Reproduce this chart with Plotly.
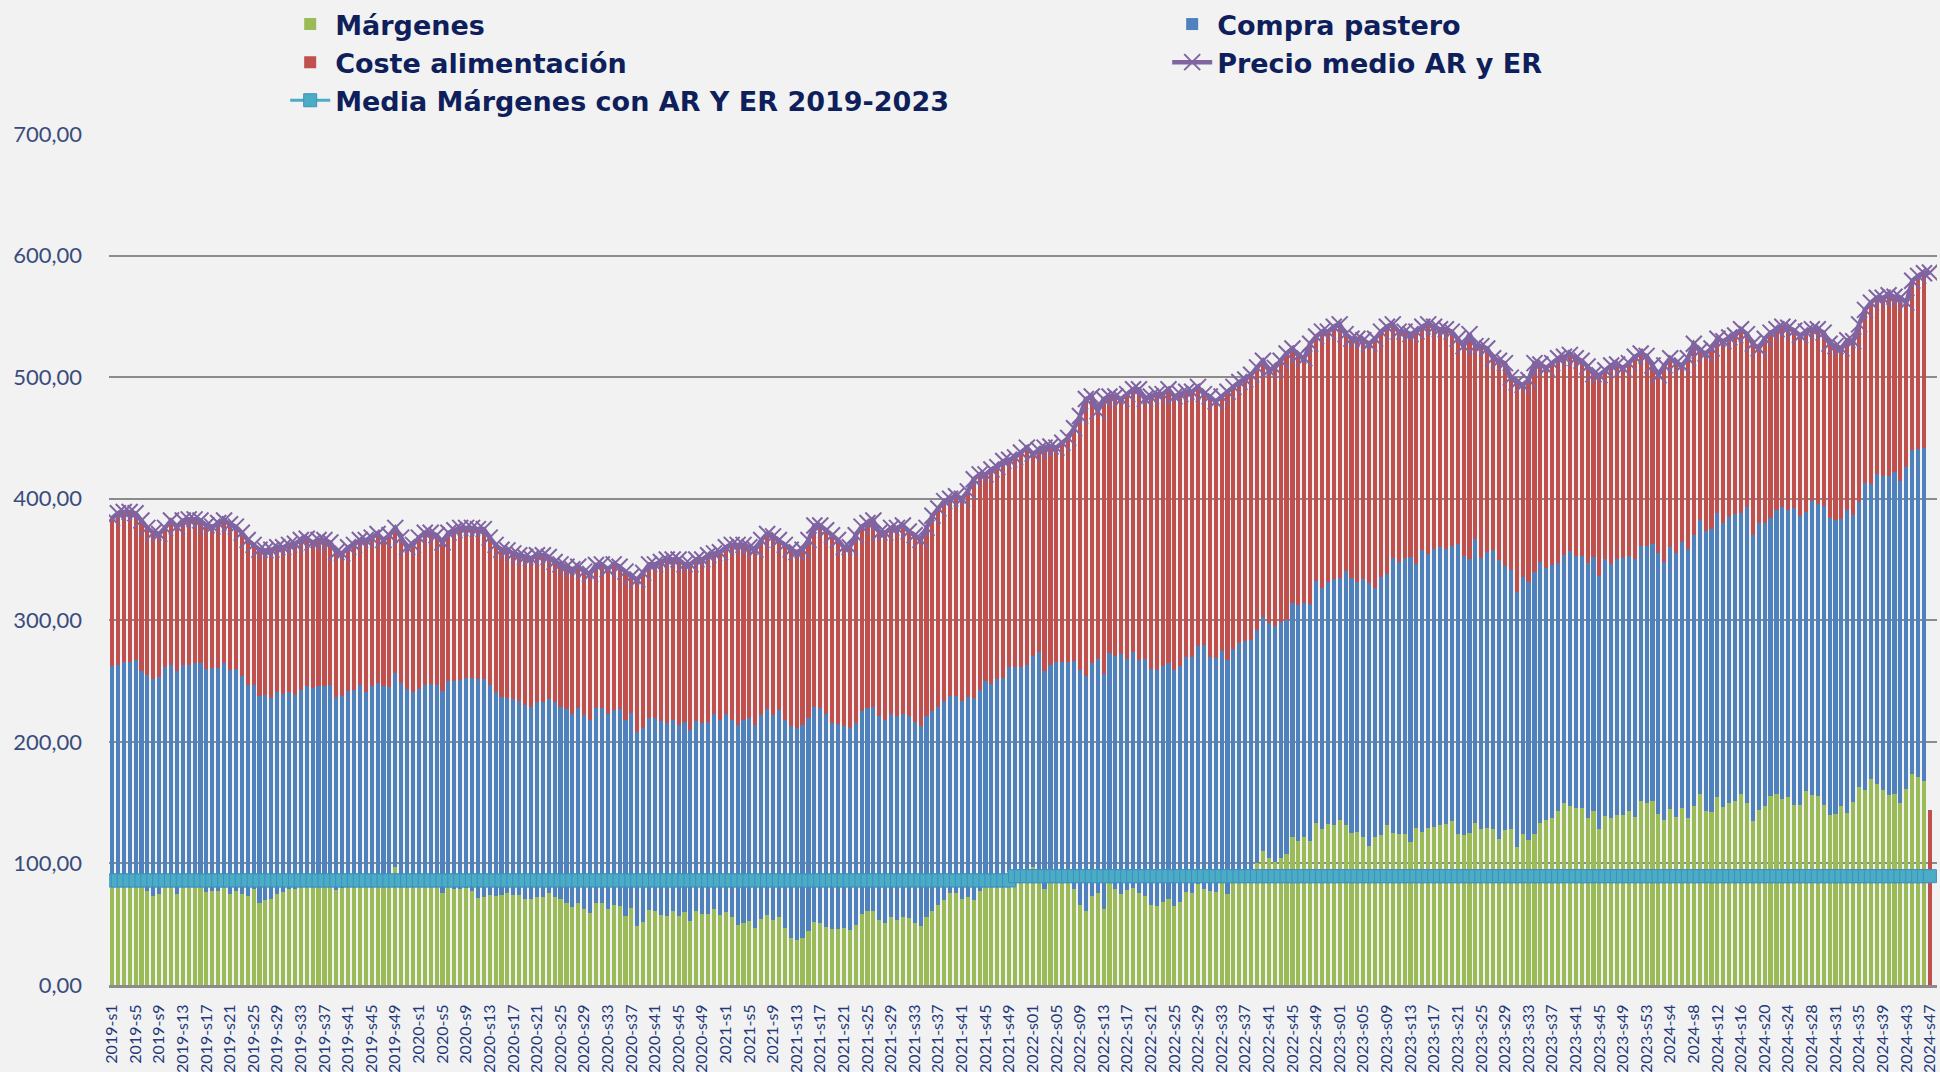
import plotly.graph_objects as go

# ---- categories (weekly) ----
weeks = ([f"2019-s{i}" for i in range(1, 53)] +
         [f"2020-s{i}" for i in range(1, 53)] +
         [f"2021-s{i}" for i in range(1, 53)] +
         [f"2022-s{i:02d}" for i in range(1, 53)] +
         [f"2023-s{i:02d}" for i in range(1, 54)] +
         [f"2024-s{i}" for i in range(1, 29)] +
         ["2024-s29", "2024-s30", "2024-s30b"] +
         [f"2024-s{i}" for i in range(31, 48)])

# ---- series values ----
margenes = [
    84, 85, 84, 83, 85, 82, 77.6, 73.6, 74.8, 82, 83, 74.8, 81, 82, 83, 82, 76.4, 77.6, 77.6, 82,
    74.8, 77.6, 74.8, 73.6, 78.8, 67.7, 69.7, 70.5, 74.8, 76.8, 78.8, 78.8, 81, 82, 81, 82, 83, 82,
    78.4, 79.6, 81, 82, 84, 81, 84, 86, 84, 83, 97, 86, 82, 80.5, 82, 84, 85, 84, 75.6, 84, 78.8,
    78.8, 79.6,
    77.6, 71.7, 72.5, 74.4, 73.6, 74.4, 75.6, 74.4, 74.4, 70.5, 70.5, 72.5, 72.5, 75.6, 72.5, 70.5,
    67.7, 64.5, 67.7, 62.5, 58.9, 67.7, 67.7, 62.9, 65.7, 65, 57, 63.7, 48.6, 51.8, 61.7, 60.5,
    57.7, 56.5, 60.5, 56.5, 59.7, 52.5, 60.5, 58.5, 58.5, 62.5, 57.7, 59.7, 55.7, 49, 51, 53, 46.6,
    54.5, 57.7, 53.7, 55.7, 46.6, 38.6, 37, 38.6, 44.6, 51.8, 51, 47.8, 45.8,
    45.8, 46.6, 45, 49, 58.5, 60.5, 60.5, 53.7, 50.6, 55.7, 53.7, 55.7, 54.9, 51, 48.6, 55.7, 60.5,
    65.7, 69.7, 75.6, 75.6, 70.5, 72.5, 70, 77.6, 82, 83, 84, 84, 92.8, 86, 88, 90, 96.7, 95, 78.8,
    86, 88, 87, 86, 78.8, 65.7, 61, 73.6, 75.6, 62.5, 84, 78.8, 74.8, 78, 80, 76, 73.6, 65.7, 64.9,
    68.5, 70.5, 64.9, 68.5, 76.8, 75.6,
    83, 78.8, 77.6, 76.4, 84, 74.8, 84, 86, 87, 88, 100, 110, 104.3, 101.5, 104.3, 107.5, 121.4,
    118.6, 121.4, 118.6, 133.4, 128.2, 132.2, 131.4, 135.4, 131.4, 125.4, 126.2, 121.4, 114.6,
    121.4, 123.4, 131.4, 125.4, 124.2, 124.2, 117.4, 129.4, 126.2, 129.4, 130.2, 131.4, 132.2,
    134.6, 124.2, 123.4, 125, 133, 128.2, 129.4, 128.6, 120.2, 127.4, 128.2, 113.5, 124.2, 119.4,
    124, 133.4, 136.1, 137.3, 143.3,
    149.3, 147.3, 145.3, 145.3, 137.3, 143.3, 128.2, 139.3, 137.3, 140.1, 140.1, 143.3, 138.5,
    151.3, 149.3, 151.3, 140.5, 135.4, 144.5, 138.5, 145.3, 137.3, 147.3, 157.2, 143.3, 142.5,
    154.5, 146.5, 149.3, 151.3, 157.2, 150, 134.6, 144.1, 147.3, 155.3, 157.2, 153.3, 154.5, 148.1,
    148.1, 159.2, 156, 155.3, 148, 140.1, 140.5, 147.3, 141.3, 150.5, 163.2, 160, 169.2, 165.2, 160,
    156, 157.2, 149.3, 161.2, 173.2, 171.2, 168,
    None]

compra_pastero = [
    178.7, 178, 181.5, 182.5, 182, 176, 177.4, 178, 178.8, 179.5, 180.5, 183.2, 182.5, 181.5, 181.7,
    182.7, 183.6, 183.2, 183.2, 182.7, 184, 182.4, 179.2, 173.2, 168, 170, 169.2, 165.2, 166, 162.8,
    162, 160.1, 161.8, 164, 163, 164, 163, 164.8, 158.5, 158.1, 161, 160.8, 162.8, 159.8, 162, 162.8,
    162, 161.8, 159.8, 162.8, 161.6, 160.3, 161.6, 162.8, 162.6, 162.8, 166, 166, 171.2, 172, 173.2,
    175.2, 179.9, 179.1, 172.4, 167.2, 162.5, 160.1, 160.5, 159.6, 159.5, 158.5, 160.5, 160.5,
    159.3, 160.5, 158.5, 159.3, 158.5, 160, 159.2, 159.1, 160.3, 160.3, 160.1, 160.3, 162, 161, 160,
    159.2, 160, 158.3, 159.2, 159.3, 159.3, 157.5, 157.5, 156.3, 157.5, 156.5, 157.3, 157.5, 160.5,
    160.1, 163.3, 162.1, 165, 166.8, 167, 167.2, 167.2, 169.3, 168, 170.3, 171.4, 174.4, 174.8,
    175.4, 175.4, 177.2, 177, 175.2, 170,
    169.2, 166.4, 166.8, 166.8, 167.2, 167.5, 168.2, 167.3, 167.4, 167.3, 167.3, 167.3, 166.1, 165,
    164.4, 165.3, 164.5, 163.3, 164.3, 162.4, 162.4, 163.5, 164.4, 166, 165.2, 168, 164.6, 167.6,
    168.8, 168.7, 175.5, 173.5, 173.5, 174, 178.5, 179.2, 177.5, 178, 178.5, 179.5, 187.9, 193.1,
    193, 191.1, 192.4, 193.1, 188.7, 191.9, 197.2, 190, 194, 191.5, 194.4, 193.9, 193.9, 193.5,
    194.2, 193.9, 194.2, 192.7, 194.4,
    195.7, 200.7, 192.4, 192.3, 190.7, 192.7, 192.7, 195.5, 195.7, 195.4, 191.8, 192.5, 193.5,
    193.9, 194.3, 193.1, 193.1, 193.9, 193.1, 194.7, 199, 198.2, 199, 202.2, 199, 209, 209, 205,
    212.2, 215.8, 205, 211.8, 207, 225.6, 224.1, 226.8, 234.6, 216.9, 231.3, 224.9, 228.8, 228.6,
    226.8, 226.9, 238.8, 229.6, 225.3, 234, 222.8, 226.9, 228.9, 229.3, 217.6, 212.8, 209.7, 211.4,
    212.2, 216, 214.9, 206.9, 208.2, 203.7,
    204.2, 209.7, 207.7, 207.7, 209.7, 208.7, 208.2, 211, 209, 210.2, 210.9, 209.7, 211.8, 210.2,
    212.2, 211.7, 214.5, 212.9, 215.5, 217, 219.2, 221, 222.9, 225, 230.1, 232.9, 233.6, 233.6, 236,
    236, 230.9, 243.3, 235.6, 236, 232.8, 228.9, 233.7, 240, 236.4, 244, 238, 229.7, 242, 240.7, 246,
    244.1, 241.7, 235.7, 249.6, 236.5, 234.1, 253.2, 242.8, 254.8, 258.8, 262.8, 264.8, 265.5, 264.8,
    266.8, 269.8, 274,
    None]

coste_alimentacion = [
    121.3, 125, 123.5, 123.5, 121, 124, 121, 120.4, 117.4, 114.5, 118.5, 119, 118.5, 119.5, 118.3,
    117.3, 118, 116.2, 119.2, 117.3, 120.2, 117, 118, 119.2, 115.2, 120.3, 118.6, 122.3, 119.2,
    120.4, 121.2, 124.1, 123.2, 121, 120, 120, 120, 117.2, 119.1, 117.3, 118, 119.2, 119.2, 125.2,
    122, 122.2, 120, 125.2, 119.2, 119.2, 116.4, 121.2, 124.4, 125.2, 124.4, 123.2, 122.4, 122, 124,
    125.2, 123.2,
    123.2, 123.4, 123.4, 121.2, 121.2, 121.1, 121.8, 120.1, 119.5, 122, 122, 120.5, 120.5, 117.1,
    115, 117, 117, 119, 116.3, 118.3, 120, 117.5, 118, 119, 120, 117, 122, 112.3, 125.8, 127.2, 126,
    126.3, 131, 134.2, 132, 136, 130, 136, 133, 134.2, 137.5, 132, 138.2, 137, 144.2, 148, 144.2,
    140, 144.2, 144.3, 144, 147.3, 140, 144, 145, 144.2, 144, 146, 149, 150, 151, 154.2,
    151, 147, 148.2, 154.2, 151.3, 152, 153.3, 151, 154, 153, 155, 155, 152, 154, 153, 155, 161, 163,
    164, 162, 164, 166, 169.1, 180, 177.2, 170, 176.4, 174.4, 178.2, 170.5, 172.5, 176.5, 178.5,
    166.3, 166.5, 184, 179.5, 176, 180.5, 184.5, 191.3, 209.2, 228, 219.3, 204, 226.4, 211.3, 213.3,
    210, 218, 216, 222.5, 214, 224.4, 227.2, 224, 225.3, 225.2, 223.3, 218.5, 218,
    213.3, 206.5, 214, 211.3, 209.3, 220.5, 215.3, 214.5, 215.3, 218.6, 216.2, 211, 207.8, 212.2,
    214.9, 218.9, 209, 205, 201, 214.2, 201, 211, 206.2, 207.8, 209, 195, 197.1, 200.3, 196.7, 197.1,
    205.1, 202.2, 203, 192.4, 189.1, 186.4, 183.4, 191.1, 183.9, 189.1, 182.4, 179.4, 180.4, 175.9,
    168.5, 172.5, 185.1, 158.5, 174.5, 167.2, 158, 164, 166.5, 158.6, 172.4, 158, 166, 171.5, 162.1,
    164.6, 166, 168.5,
    163.2, 161.3, 162.5, 160.5, 161.8, 150.4, 165.2, 155.3, 163.3, 160.1, 156.6, 158.5, 166.4, 158,
    156, 146.6, 146.6, 161.3, 155.5, 156, 145.1, 157.2, 157.3, 139.3, 146.1, 148.1, 143.4, 149.4,
    147.3, 146.9, 151.3, 142.1, 157.3, 143.4, 151.4, 152.4, 148.5, 148.1, 149.7, 146.1, 148.1, 148.5,
    141.4, 143.4, 142.6, 143.3, 143.3, 140.5, 139.4, 142.5, 146.1, 142.1, 149.3, 145.3, 146.5, 148.5,
    144.1, 150.5, 135.3, 139.3, 142.3, 143.4,
    144]

precio_medio = [
    384, 388, 389, 389, 388, 382, 376, 372, 371, 376, 382, 377, 382, 383, 383, 382, 378, 377, 380,
    382, 379, 377, 372, 366, 362, 358, 357.5, 358, 360, 360, 362, 363, 366, 367, 364, 366, 366, 364,
    356, 355, 360, 362, 366, 366, 368, 371, 366, 370, 376, 368, 360, 362, 368, 372, 372, 370, 364,
    372, 374, 376, 376,
    376, 375, 375, 368, 362, 358, 357.5, 355, 353.5, 352, 351, 353.5, 353.5, 352, 348, 346, 344, 342,
    344, 340, 338, 345.5, 346, 342, 346, 344, 340, 336, 333.6, 339, 346, 346, 348, 350, 350, 350, 346,
    346, 350, 350, 353.5, 355, 356, 360, 362, 362, 362, 360, 358, 366, 371, 369, 366, 362, 358, 356,
    358, 366, 378, 378, 374, 370,
    366, 360, 360, 370, 377, 380, 382, 372, 372, 376, 376, 378, 373, 370, 366, 376, 386, 392, 398,
    400, 402, 400, 406, 416, 420, 420, 424, 426, 431, 432, 434, 438, 442, 437, 440, 442, 443, 442,
    446, 450, 458, 468, 482, 484, 472, 482, 484, 484, 482, 486, 490, 490, 482, 484, 486, 486, 490,
    484, 486, 488, 488,
    492, 486, 484, 480, 484, 488, 492, 496, 498, 502, 508, 513.5, 505.6, 507.6, 513.5, 519.5, 523.5,
    517.5, 515.5, 527.5, 533.4, 537.4, 537.4, 541.4, 543.4, 535.4, 531.5, 531.5, 530.3, 527.5, 531.5,
    537.4, 541.4, 543.4, 537.4, 537.4, 535.4, 537.4, 541.4, 543.4, 541.4, 539.4, 539.4, 537.4, 531.5,
    525.5, 535.4, 525.5, 525.5, 523.5, 515.5, 513.5, 511.5, 499.6, 495.6, 493.6, 497.6, 511.5, 510.4,
    507.6, 511.5, 515.5,
    516.7, 518.3, 515.5, 513.5, 508.8, 502.4, 501.6, 505.6, 509.6, 510.4, 507.6, 511.5, 516.7, 519.5,
    517.5, 509.6, 501.6, 509.6, 515.5, 511.5, 509.6, 515.5, 527.5, 521.5, 519.5, 523.5, 531.5, 529.5,
    532.6, 534.2, 539.4, 535.4, 527.5, 523.5, 531.5, 536.6, 539.4, 541.4, 540.6, 538.2, 534.2, 537.4,
    539.4, 539.4, 536.6, 527.5, 525.5, 523.5, 530.3, 529.5, 543.4, 555.3, 561.3, 565.3, 565.3, 567.3,
    566.1, 565.3, 561.3, 579.3, 583.3, 585.4,
    586]

media_margenes = [86.0] * 153 + [89.5] * 156

# ---- styling ----
GREEN, BLUE, RED = "#9BBB59", "#4F81BD", "#C0504D"
PURPLE, TEAL = "#8064A2", "#4BACC6"
NAVY = "#0E1F5B"
BG = "#F2F2F2"

fig = go.Figure()
fig.add_trace(go.Bar(x=weeks, y=margenes, name="Márgenes", marker=dict(color=GREEN, line=dict(width=0))))
fig.add_trace(go.Bar(x=weeks, y=compra_pastero, name="Compra pastero", marker=dict(color=BLUE, line=dict(width=0))))
fig.add_trace(go.Bar(x=weeks, y=coste_alimentacion, name="Coste alimentación", marker=dict(color=RED, line=dict(width=0))))
fig.add_trace(go.Scatter(x=weeks, y=precio_medio, name="Precio medio AR y ER", mode="lines+markers",
                         line=dict(color=PURPLE, width=4.5),
                         marker=dict(symbol="x-thin", size=16, line=dict(color=PURPLE, width=2))))
fig.add_trace(go.Scatter(x=weeks, y=media_margenes, name="Media Márgenes con AR Y ER 2019-2023",
                         mode="lines+markers", line=dict(color=TEAL, width=3),
                         marker=dict(symbol="square", size=13, color=TEAL, line=dict(color="#3F8FBF", width=1))))

fig.update_layout(
    width=1940, height=1072,
    paper_bgcolor=BG, plot_bgcolor=BG,
    barmode="stack", bargap=0.3,
    separators=", ",
    margin=dict(l=109, r=3, t=133, b=87),
    showlegend=True,
    legend=dict(orientation="h", xref="container", yref="container", x=0.147, y=1.0,
                xanchor="left", yanchor="top", traceorder="normal",
                entrywidth=827, entrywidthmode="pixels",
                font=dict(family="DejaVu Sans", size=27, color=NAVY, weight="bold"),
                bgcolor="rgba(0,0,0,0)", borderwidth=0, itemwidth=40, tracegroupgap=0),
    font=dict(family="Lato", color="#2E4373"),
)
fig.update_xaxes(type="category", range=[-0.5, 309.2], tickmode="array",
                 tickvals=weeks[::4], ticktext=weeks[::4],
                 tickangle=-90, tickfont=dict(family="Lato", size=16, color="#24397A"),
                 showline=True, linecolor="#8C8C8C", linewidth=3, ticks="", showgrid=False,
                 automargin=False, ticklabelstandoff=10)
fig.update_yaxes(range=[0, 700.8], tickvals=[0, 100, 200, 300, 400, 500, 600, 700], tickformat=".2f",
                 showgrid=True, gridcolor="#8C8C8C",
                 gridwidth=2, zeroline=False, ticks="", automargin=False, ticklabelstandoff=26,
                 tickfont=dict(family="Lato", size=22, color="#3A4C7C"))

fig.write_html("out.html", config={"displayModeBar": False},
               post_script="document.body.style.margin='0';")
